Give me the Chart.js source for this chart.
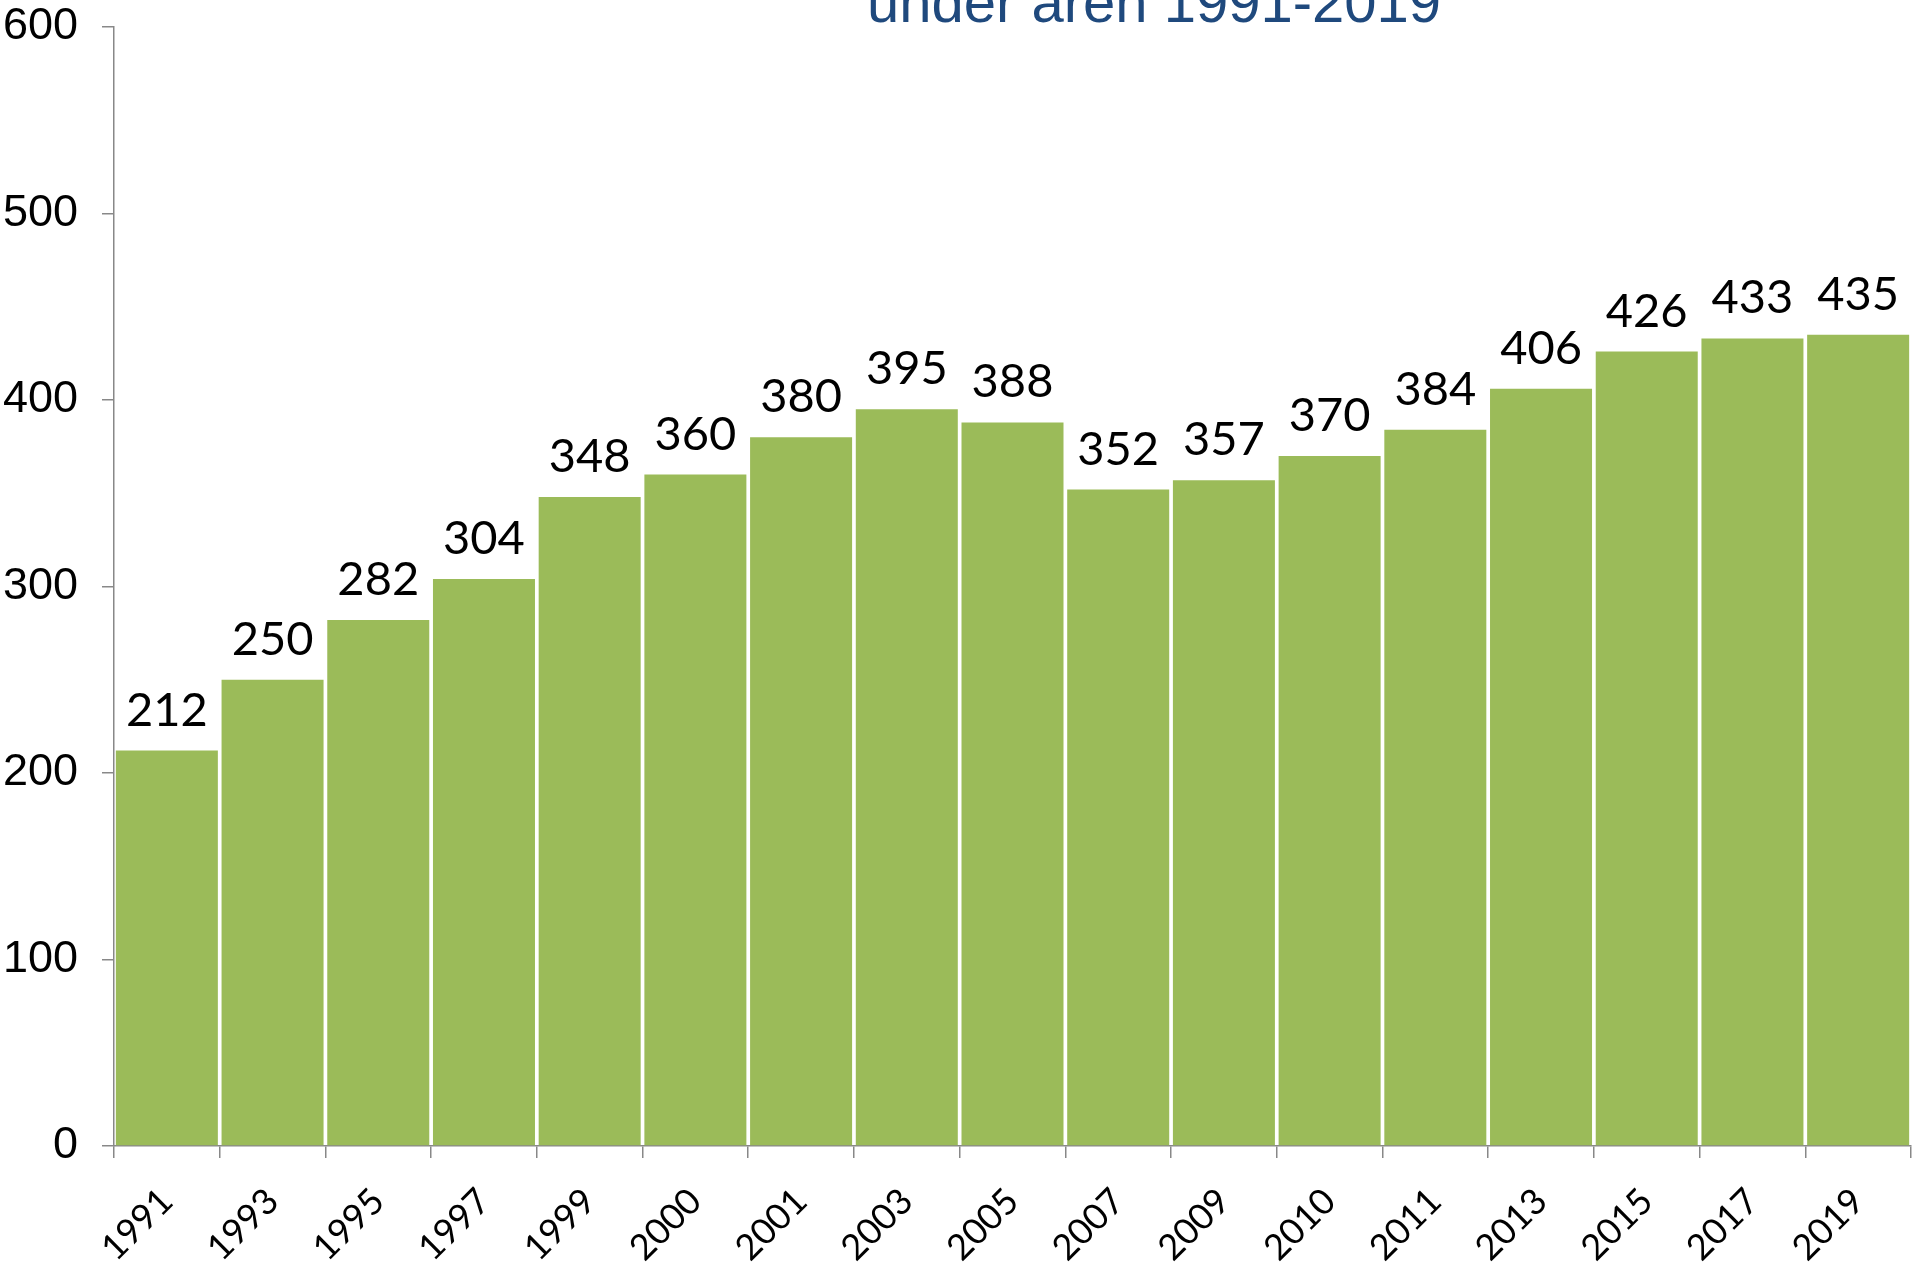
<!DOCTYPE html>
<html>
<head>
<meta charset="utf-8">
<script src="https://cdn.jsdelivr.net/npm/chart.js@4/dist/chart.umd.min.js"></script>
<style>
  html, body { margin: 0; padding: 0; background: #ffffff; }
  #wrap { width: 1915px; height: 1263px; }
</style>
</head>
<body>
<div id="wrap"><canvas id="c" width="1915" height="1263"></canvas></div>
<script>
const years = ['1991','1993','1995','1997','1999','2000','2001','2003','2005','2007','2009','2010','2011','2013','2015','2017','2019'];
const values = [212, 250, 282, 304, 348, 360, 380, 395, 388, 352, 357, 370, 384, 406, 426, 433, 435];
const yMin = 0, yMax = 600, yStep = 100;
const titleText = 'under åren 1991-2019';

const barColor = '#9BBB59';
const axisColor = '#888888';
const labelFont = 'Lato, "Open Sans", sans-serif';
const tickFont = '"Liberation Sans", Arial, sans-serif';

const labelsPlugin = {
  id: 'valueLabels',
  afterDatasetsDraw(chart) {
    const ctx = chart.ctx;
    const meta = chart.getDatasetMeta(0);
    ctx.save();
    ctx.fillStyle = '#000000';
    ctx.font = '47px ' + labelFont;
    ctx.textAlign = 'center';
    ctx.textBaseline = 'alphabetic';
    meta.data.forEach((bar, i) => {
      ctx.fillText(String(values[i]), bar.x, bar.y - 25);
    });
    ctx.restore();
  },
  afterDraw(chart) {
    const ctx = chart.ctx;
    ctx.save();
    ctx.fillStyle = '#1F497D';
    ctx.font = '58px ' + tickFont;
    ctx.textAlign = 'center';
    ctx.textBaseline = 'alphabetic';
    ctx.fillText(titleText, 1154, 22);
    ctx.restore();
  }
};

new Chart(document.getElementById('c'), {
  type: 'bar',
  data: {
    labels: years,
    datasets: [{
      data: values,
      backgroundColor: barColor,
      borderWidth: 0,
      barPercentage: 0.965,
      categoryPercentage: 1.0
    }]
  },
  options: {
    responsive: false,
    animation: false,
    devicePixelRatio: 1,
    layout: { padding: { top: 27, right: 4, left: 0, bottom: 0 } },
    plugins: {
      legend: { display: false },
      title: { display: false },
      tooltip: { enabled: false }
    },
    scales: {
      x: {
        grid: {
          offset: true,
          drawOnChartArea: false,
          drawTicks: true,
          tickLength: 12,
          color: axisColor,
          lineWidth: 1.5
        },
        border: { display: true, color: axisColor, width: 1.5 },
        ticks: {
          color: '#000000',
          font: { family: labelFont, size: 36 },
          minRotation: 45,
          maxRotation: 45,
          autoSkip: false,
          padding: 22
        },
        afterFit(scale) {
          scale.height = 117;
          scale.paddingLeft = 0;
          scale.paddingRight = 0;
        }
      },
      y: {
        min: yMin,
        max: yMax,
        ticks: {
          stepSize: yStep,
          color: '#000000',
          font: { family: tickFont, size: 45 },
          padding: 24
        },
        grid: {
          drawOnChartArea: false,
          drawTicks: true,
          tickLength: 12,
          color: axisColor,
          lineWidth: 1.5
        },
        border: { display: true, color: axisColor, width: 1.5 },
        afterFit(scale) {
          scale.width = 114;
          scale.paddingTop = 0;
          scale.paddingBottom = 0;
        }
      }
    }
  },
  plugins: [labelsPlugin]
});
</script>
</body>
</html>
